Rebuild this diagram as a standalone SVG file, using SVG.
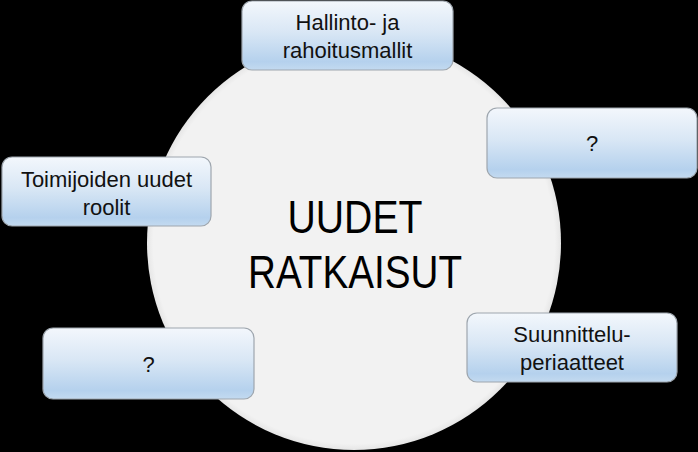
<svg xmlns="http://www.w3.org/2000/svg" width="698" height="452" viewBox="0 0 698 452">
<defs>
<linearGradient id="bg" x1="0" y1="0" x2="0" y2="1">
<stop offset="0" stop-color="#f3f7fc"/>
<stop offset="0.45" stop-color="#d9e7f5"/>
<stop offset="0.88" stop-color="#b5d1ed"/>
<stop offset="1" stop-color="#c3daf0"/>
</linearGradient>
<radialGradient id="cg" cx="0.5" cy="0.5" r="0.5">
<stop offset="0.97" stop-color="#f2f2f2"/>
<stop offset="1" stop-color="#e6e6e6"/>
</radialGradient>
</defs>
<style>
.box{fill:url(#bg);stroke:#9ea6ae;stroke-width:1.2}
.t{font-family:"Liberation Sans",Arial,sans-serif;font-size:22px;fill:#111;text-anchor:middle}
.big{font-family:"Liberation Sans",Arial,sans-serif;font-size:46px;fill:#000;text-anchor:middle}
</style>
<rect x="0" y="0" width="698" height="452" fill="#000"/>
<g id="center">
<circle cx="354" cy="243" r="207" fill="url(#cg)"/>
<text class="big" x="355" y="233" textLength="135" lengthAdjust="spacingAndGlyphs">UUDET</text>
<text class="big" x="355" y="288" textLength="214" lengthAdjust="spacingAndGlyphs">RATKAISUT</text>
</g>
<g id="connectors"></g>
<g id="n-hallinto">
<rect class="box" x="242" y="1" width="211" height="69" rx="10"/>
<text class="t" x="347.5" y="29.5">Hallinto- ja</text>
<text class="t" x="347.5" y="58">rahoitusmallit</text>
</g>
<g id="n-q1">
<rect class="box" x="487" y="108" width="210" height="70" rx="10"/>
<text class="t" x="592" y="151">?</text>
</g>
<g id="n-toimijoiden">
<rect class="box" x="2" y="157" width="209" height="69" rx="10"/>
<text class="t" x="106.5" y="186.5">Toimijoiden uudet</text>
<text class="t" x="106.5" y="214.5">roolit</text>
</g>
<g id="n-suunnittelu">
<rect class="box" x="467" y="313" width="210" height="69" rx="10"/>
<text class="t" x="572" y="342">Suunnittelu-</text>
<text class="t" x="572" y="370">periaatteet</text>
</g>
<g id="n-q2">
<rect class="box" x="43" y="328" width="211" height="71" rx="10"/>
<text class="t" x="148.5" y="371.5">?</text>
</g>
</svg>
